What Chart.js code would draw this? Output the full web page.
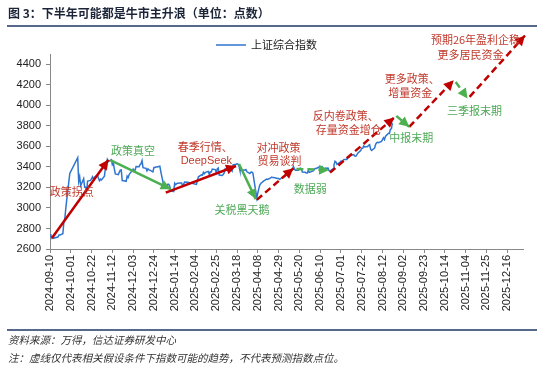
<!DOCTYPE html>
<html>
<head>
<meta charset="utf-8">
<script src="https://cdn.jsdelivr.net/npm/chart.js@4.4.1/dist/chart.umd.min.js"></script>
<style>
  html, body { margin: 0; padding: 0; background: #fff; }
  #wrap { width: 550px; height: 374px; }
</style>
</head>
<body>
<div id="wrap"><canvas id="chart" width="550" height="374"></canvas></div>
<script>
const titleText = '图 3：下半年可能都是牛市主升浪（单位：点数）';
const seriesName = '上证综合指数';
const sourceText = '资料来源：万得，信达证券研发中心';
const noteText = '注：虚线仅代表相关假设条件下指数可能的趋势，不代表预测指数点位。';

// SSE composite, daily close
const dates = [
  '2024-09-10','2024-09-11','2024-09-12','2024-09-13','2024-09-18','2024-09-19','2024-09-20','2024-09-23','2024-09-24','2024-09-25','2024-09-26','2024-09-27','2024-09-30',
  '2024-10-08','2024-10-09','2024-10-10','2024-10-11','2024-10-14','2024-10-15','2024-10-16','2024-10-17','2024-10-18','2024-10-21','2024-10-22','2024-10-23','2024-10-24','2024-10-25','2024-10-28','2024-10-29','2024-10-30','2024-10-31',
  '2024-11-01','2024-11-04','2024-11-05','2024-11-06','2024-11-07','2024-11-08','2024-11-11','2024-11-12','2024-11-13','2024-11-14','2024-11-15','2024-11-18','2024-11-19','2024-11-20','2024-11-21','2024-11-22','2024-11-25','2024-11-26','2024-11-27','2024-11-28','2024-11-29',
  '2024-12-02','2024-12-03','2024-12-04','2024-12-05','2024-12-06','2024-12-09','2024-12-10','2024-12-11','2024-12-12','2024-12-13','2024-12-16','2024-12-17','2024-12-18','2024-12-19','2024-12-20','2024-12-23','2024-12-24','2024-12-25','2024-12-26','2024-12-27','2024-12-30','2024-12-31',
  '2025-01-02','2025-01-03','2025-01-06','2025-01-07','2025-01-08','2025-01-09','2025-01-10','2025-01-13','2025-01-14','2025-01-15','2025-01-16','2025-01-17','2025-01-20','2025-01-21','2025-01-22','2025-01-23','2025-01-24','2025-01-27',
  '2025-02-05','2025-02-06','2025-02-07','2025-02-10','2025-02-11','2025-02-12','2025-02-13','2025-02-14','2025-02-17','2025-02-18','2025-02-19','2025-02-20','2025-02-21','2025-02-24','2025-02-25','2025-02-26','2025-02-27','2025-02-28',
  '2025-03-03','2025-03-04','2025-03-05','2025-03-06','2025-03-07','2025-03-10','2025-03-11','2025-03-12','2025-03-13','2025-03-14','2025-03-17','2025-03-18','2025-03-19','2025-03-20','2025-03-21','2025-03-24','2025-03-25','2025-03-26','2025-03-27','2025-03-28','2025-03-31',
  '2025-04-01','2025-04-02','2025-04-03','2025-04-07','2025-04-08','2025-04-09','2025-04-10','2025-04-11','2025-04-14','2025-04-15','2025-04-16','2025-04-17','2025-04-18','2025-04-21','2025-04-22','2025-04-23','2025-04-24','2025-04-25','2025-04-28','2025-04-29','2025-04-30',
  '2025-05-06','2025-05-07','2025-05-08','2025-05-09','2025-05-12','2025-05-13','2025-05-14','2025-05-15','2025-05-16','2025-05-19','2025-05-20','2025-05-21','2025-05-22','2025-05-23','2025-05-26','2025-05-27','2025-05-28','2025-05-29','2025-05-30',
  '2025-06-03','2025-06-04','2025-06-05','2025-06-06','2025-06-09','2025-06-10','2025-06-11','2025-06-12','2025-06-13','2025-06-16','2025-06-17','2025-06-18','2025-06-19','2025-06-20','2025-06-23','2025-06-24','2025-06-25','2025-06-26','2025-06-27','2025-06-30',
  '2025-07-01','2025-07-02','2025-07-03','2025-07-04','2025-07-07','2025-07-08','2025-07-09','2025-07-10','2025-07-11','2025-07-14','2025-07-15','2025-07-16','2025-07-17','2025-07-18','2025-07-21','2025-07-22','2025-07-23','2025-07-24','2025-07-25','2025-07-28','2025-07-29','2025-07-30','2025-07-31',
  '2025-08-01','2025-08-04','2025-08-05','2025-08-06','2025-08-07','2025-08-08','2025-08-11','2025-08-12','2025-08-13','2025-08-14','2025-08-15','2025-08-18','2025-08-19','2025-08-20','2025-08-21','2025-08-22'
];
const closes = [
  2744,2721,2717,2704,2717,2736,2736,2748,2863,2896,3000,3087,3336,
  3489,3258,3302,3217,3285,3202,3202,3170,3262,3268,3285,3303,3280,3300,3322,3286,3266,3280,
  3272,3310,3387,3383,3471,3452,3470,3422,3439,3380,3331,3324,3347,3368,3370,3267,3263,3260,3310,3296,3326,
  3364,3379,3365,3368,3404,3402,3422,3432,3462,3392,3386,3362,3382,3371,3368,3352,3394,3394,3399,3400,3407,3352,
  3262,3211,3206,3230,3230,3212,3169,3161,3240,3227,3237,3241,3244,3243,3214,3231,3252,3250,
  3229,3270,3304,3322,3318,3346,3333,3347,3356,3325,3351,3350,3379,3374,3346,3380,3389,3321,
  3317,3325,3342,3381,3373,3367,3379,3372,3359,3419,3426,3430,3427,3408,3364,3370,3370,3368,3374,3352,3336,
  3348,3350,3342,3097,3146,3186,3224,3238,3263,3268,3276,3281,3277,3292,3300,3296,3297,3295,3288,3287,3279,
  3317,3343,3353,3342,3370,3374,3404,3380,3367,3368,3381,3388,3380,3349,3347,3340,3340,3363,3347,
  3361,3376,3384,3385,3399,3385,3402,3403,3377,3388,3387,3388,3363,3359,3381,3420,3455,3448,3425,3444,
  3457,3455,3461,3473,3473,3497,3494,3510,3510,3520,3505,3504,3517,3534,3560,3582,3582,3605,3594,3598,3610,3616,3573,
  3560,3583,3618,3634,3640,3635,3648,3665,3684,3666,3697,3728,3727,3766,3771,3826
];

const xTickLabels = [
  '2024-09-10','2024-10-01','2024-10-22','2024-11-12','2024-12-03','2024-12-24',
  '2025-01-14','2025-02-04','2025-02-25','2025-03-18','2025-04-08','2025-04-29',
  '2025-05-20','2025-06-10','2025-07-01','2025-07-22','2025-08-12','2025-09-02',
  '2025-09-23','2025-10-14','2025-11-04','2025-11-25','2025-12-16'
];
const yTickValues = [2600, 2800, 3000, 3200, 3400, 3600, 3800, 4000, 4200, 4400];

// trend arrows (start / end)
const arrowFromDate = ['2024-09-12','2024-11-10','2025-01-05','2025-03-20','2025-04-07','2025-05-17','2025-06-20','2025-08-26','2025-09-08','2025-10-25','2025-11-08'];
const arrowFromValue = [2707, 3465, 3150, 3428, 3079, 3380, 3344, 3897, 3790, 4228, 4082];
const arrowToDate = ['2024-11-08','2025-01-10','2025-03-17','2025-04-06','2025-05-14','2025-06-19','2025-08-24','2025-09-08','2025-10-23','2025-11-06','2026-01-03'];
const arrowToValue = [3470, 3183, 3409, 3086, 3386, 3370, 3882, 3790, 4244, 4066, 4680];
const arrowDashed = [false, false, false, false, true, true, true, true, true, true, true];

const RED = '#C00000';
const GREEN = '#4CAF50';
const RED_TEXT = '#C0392B';
const GREEN_TEXT = '#4DA957';
const NAVY = '#1F3864';
const CJK = '"Noto Sans CJK SC", "Noto Sans", sans-serif';

const base = Date.UTC(2024, 8, 10);
const toDay = s => {
  const [y, m, d] = s.split('-').map(Number);
  return (Date.UTC(y, m - 1, d) - base) / 86400000;
};
const xTickDays = xTickLabels.map(toDay);

// event captions, placed in data units
const captions = [
  { text: '政策拐点', date: '2024-10-02', value: 3156, color: RED_TEXT },
  { text: '政策真空', date: '2024-12-03', value: 3554, color: GREEN_TEXT },
  { text: '春季行情、', date: '2025-02-14', value: 3593, color: RED_TEXT },
  { text: 'DeepSeek', date: '2025-02-15', value: 3457, color: RED_TEXT, latin: true },
  { text: '关税黑天鹅', date: '2025-03-23', value: 2982, color: GREEN_TEXT },
  { text: '对冲政策', date: '2025-04-29', value: 3584, color: RED_TEXT },
  { text: '贸易谈判', date: '2025-04-30', value: 3457, color: RED_TEXT },
  { text: '数据弱', date: '2025-05-31', value: 3185, color: GREEN_TEXT },
  { text: '反内卷政策、', date: '2025-07-06', value: 3894, color: RED_TEXT },
  { text: '存量资金增仓', date: '2025-07-09', value: 3758, color: RED_TEXT },
  { text: '中报末期', date: '2025-09-10', value: 3681, color: GREEN_TEXT },
  { text: '更多政策、', date: '2025-09-11', value: 4254, color: RED_TEXT },
  { text: '增量资金', date: '2025-09-09', value: 4118, color: RED_TEXT },
  { text: '三季报末期', date: '2025-11-13', value: 3943, color: GREEN_TEXT },
  { text: '预期26年盈利企稳', date: '2025-11-14', value: 4642, color: RED_TEXT },
  { text: '更多居民资金', date: '2025-11-09', value: 4496, color: RED_TEXT }
];

const seriesData = dates.map((d, i) => ({ x: toDay(d), y: closes[i] }));

const arrowSets = arrowFromDate.map((d, i) => {
  const up = arrowToValue[i] > arrowFromValue[i];
  return {
    label: 'arrow' + i,
    isArrow: true,
    data: [{ x: toDay(d), y: arrowFromValue[i] }, { x: toDay(arrowToDate[i]), y: arrowToValue[i] }],
    borderColor: up ? RED : GREEN,
    borderWidth: 2.5,
    borderDash: arrowDashed[i] ? [7, 4] : [],
    pointRadius: 0,
    clip: false,
    order: 0
  };
});

const decor = {
  id: 'decor',
  afterDatasetsDraw(chart) {
    const ctx = chart.ctx;
    chart.data.datasets.forEach((ds, i) => {
      if (!ds.isArrow) return;
      const pts = chart.getDatasetMeta(i).data;
      const a = pts[0], b = pts[1];
      const ang = Math.atan2(b.y - a.y, b.x - a.x);
      const len = 10, half = 5;
      ctx.save();
      ctx.translate(b.x, b.y);
      ctx.rotate(ang);
      ctx.beginPath();
      ctx.moveTo(0, 0);
      ctx.lineTo(-len, -half);
      ctx.lineTo(-len, half);
      ctx.closePath();
      ctx.fillStyle = ds.borderColor;
      ctx.fill();
      ctx.restore();
    });
  },
  afterDraw(chart) {
    const ctx = chart.ctx;
    const xs = chart.scales.x, ys = chart.scales.y;
    ctx.save();
    // captions
    ctx.textAlign = 'center';
    ctx.textBaseline = 'middle';
    captions.forEach(c => {
      ctx.font = c.latin ? '11px "Liberation Sans", Arial, sans-serif' : '11px ' + CJK;
      ctx.fillStyle = c.color;
      ctx.fillText(c.text, xs.getPixelForValue(toDay(c.date)), ys.getPixelForValue(c.value));
    });
    // legend
    ctx.strokeStyle = '#2E75D0';
    ctx.lineWidth = 1.5;
    ctx.beginPath();
    ctx.moveTo(216, 45);
    ctx.lineTo(246, 45);
    ctx.stroke();
    ctx.textAlign = 'left';
    ctx.fillStyle = '#222';
    ctx.font = '11px ' + CJK;
    ctx.fillText(seriesName, 251, 45);
    // header
    ctx.fillStyle = '#1c2538';
    ctx.font = 'bold 12px ' + CJK;
    ctx.fillText(titleText, 8, 13);
    ctx.strokeStyle = NAVY;
    ctx.lineWidth = 1.5;
    ctx.beginPath();
    ctx.moveTo(7, 26);
    ctx.lineTo(537, 26);
    ctx.moveTo(7, 330);
    ctx.lineTo(537, 330);
    ctx.stroke();
    // footer
    ctx.fillStyle = '#333';
    ctx.font = 'italic 10.5px ' + CJK;
    ctx.fillText(sourceText, 8, 340);
    ctx.fillText(noteText, 8, 358);
    ctx.restore();
  }
};

Chart.defaults.font.family = '"Liberation Sans", Arial, sans-serif';

new Chart(document.getElementById('chart'), {
  type: 'line',
  data: {
    datasets: [
      {
        label: seriesName,
        data: seriesData,
        borderColor: '#2E75D0',
        borderWidth: 1.5,
        pointRadius: 0,
        tension: 0,
        order: 1
      },
      ...arrowSets
    ]
  },
  options: {
    responsive: false,
    animation: false,
    devicePixelRatio: 1,
    layout: { padding: { left: 0, right: 27, top: 54, bottom: 0 } },
    plugins: { legend: { display: false }, title: { display: false }, tooltip: { enabled: false } },
    scales: {
      x: {
        type: 'linear',
        min: 0,
        max: 478,
        afterBuildTicks: s => { s.ticks = xTickDays.map(v => ({ value: v })); },
        afterFit: s => { s.height = 125; },
        grid: { drawOnChartArea: false, tickLength: 4, color: '#888' },
        border: { color: '#888' },
        ticks: {
          autoSkip: false,
          minRotation: 90,
          maxRotation: 90,
          padding: 2,
          color: '#222',
          font: { size: 11 },
          callback: v => {
            const i = xTickDays.indexOf(v);
            return i >= 0 ? xTickLabels[i] : '';
          }
        }
      },
      y: {
        min: 2600,
        max: 4500,
        afterBuildTicks: s => { s.ticks = yTickValues.map(v => ({ value: v })); },
        afterFit: s => { s.width = 50; },
        grid: { drawOnChartArea: false, tickLength: 4, color: '#888' },
        border: { color: '#888' },
        ticks: { padding: 5, color: '#222', font: { size: 11 }, callback: v => String(v) }
      }
    }
  },
  plugins: [decor]
});
</script>
</body>
</html>
